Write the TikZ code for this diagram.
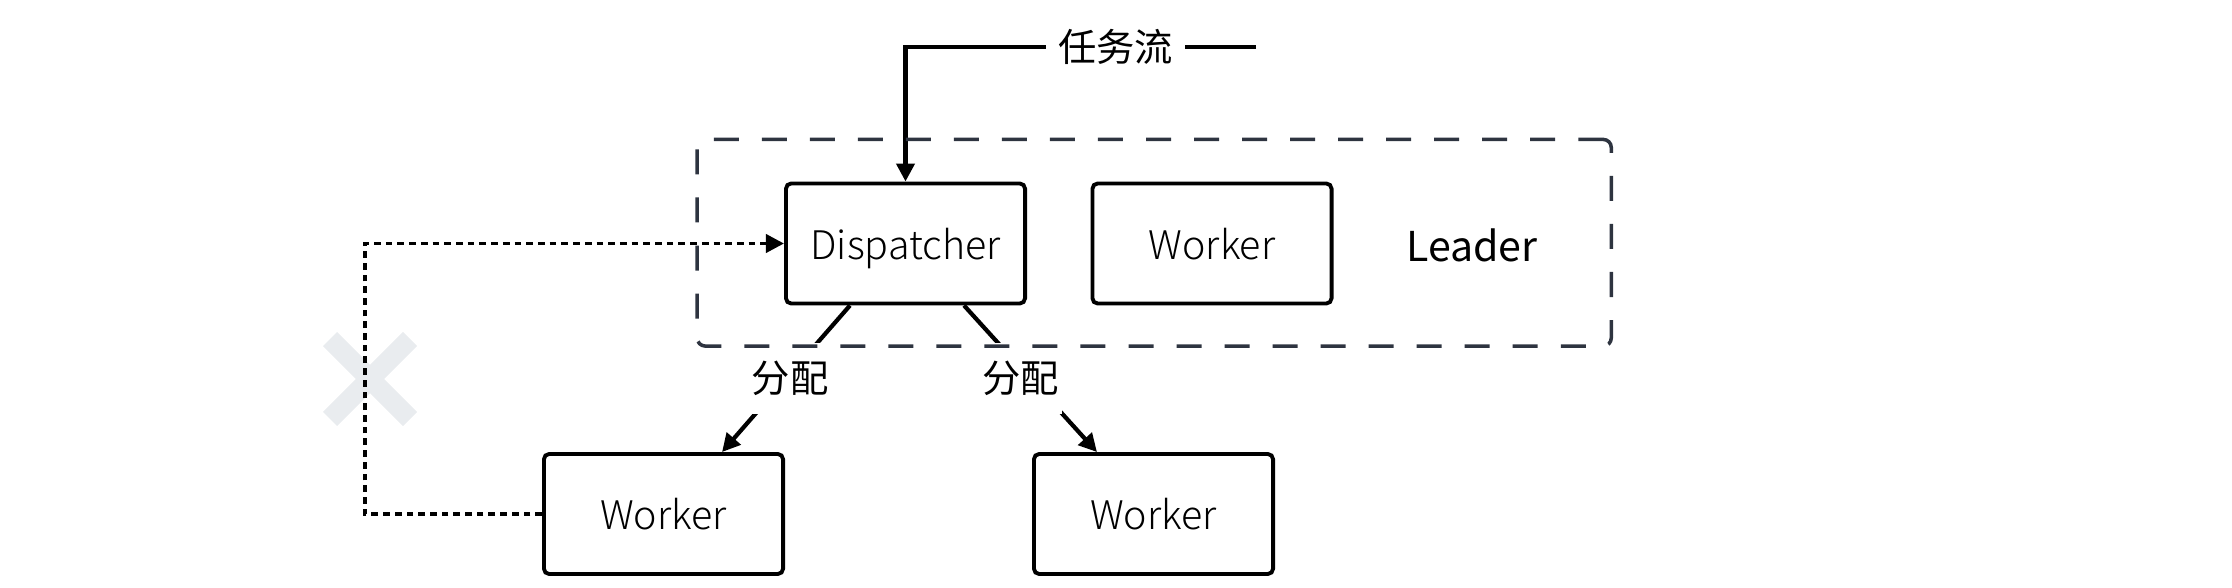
\documentclass[tikz,border=0pt]{standalone}
\usepackage{fontspec}
\setmainfont{Noto Sans CJK SC}
\newfontfamily\lightfont{Noto Sans CJK SC Light}
\usetikzlibrary{arrows.meta}
\definecolor{frame}{HTML}{2E3440}
\definecolor{xgray}{HTML}{E9ECEF}
\begin{document}
\begin{tikzpicture}[x=0.01cm,y=-0.01cm,
  box/.style={draw, line width=1.1pt, rounded corners=1.5pt, minimum width=2.39cm, minimum height=1.2cm, inner sep=0pt, text depth=0pt, font=\lightfont\fontsize{11.2}{13}\selectfont},
  tip/.style={-{Triangle[length=0.18cm,width=0.18cm]}},
  conn/.style={line width=1.2pt, tip},
  flowlbl/.style={fill=white, inner xsep=3.4pt, font=\fontsize{10.9}{12}\selectfont},
  distlbl/.style={fill=white, inner xsep=1pt, minimum height=0.71cm, font=\fontsize{10.9}{12}\selectfont},
  dotconn/.style={line width=1.1pt, dash pattern=on 0.067cm off 0.05cm, tip},
  leaderframe/.style={draw=frame, line width=1pt, dash pattern=on 0.25cm off 0.23cm, rounded corners=0.08cm, minimum width=9.135cm, minimum height=2.065cm, inner sep=0pt}
]
\useasboundingbox (0,0) rectangle (2232,588);
% faded cross
\draw[xgray, line width=0.2cm] (330,339) -- (410,419) (330,419) -- (410,339);
% boxes
\node[box] (disp) at (905.5,243.5) {Dispatcher};
\node[box] (lw) at (1212,243.5) {Worker};
\node[box] (w1) at (663.5,514) {Worker};
\node[box] (w2) at (1153.5,514) {Worker};
\node[font=\fontsize{11.7}{14}\selectfont] (leadlbl) at (1472,245) {Leader};
% task flow
\coordinate (src) at (1256,47);
\draw[conn] (src) -| node[flowlbl, pos=0.2] (flow) {任务流} (disp.north);
% distribution
\draw[conn] ([xshift=-0.555cm]disp.south) -- node[distlbl, xshift=0.04cm] (d1) {分配} ([xshift=0.585cm]w1.north);
\draw[conn] ([xshift=0.585cm]disp.south) -- node[distlbl, xshift=-0.1cm] (d2) {分配} ([xshift=-0.565cm]w2.north);
% dotted feedback
\draw[dotconn] (w1.west) -- ++(-177,0) |- (disp.west);
% leader frame
\node[leaderframe] (leader) at (1154.25,242.75) {};
\end{tikzpicture}
\end{document}
